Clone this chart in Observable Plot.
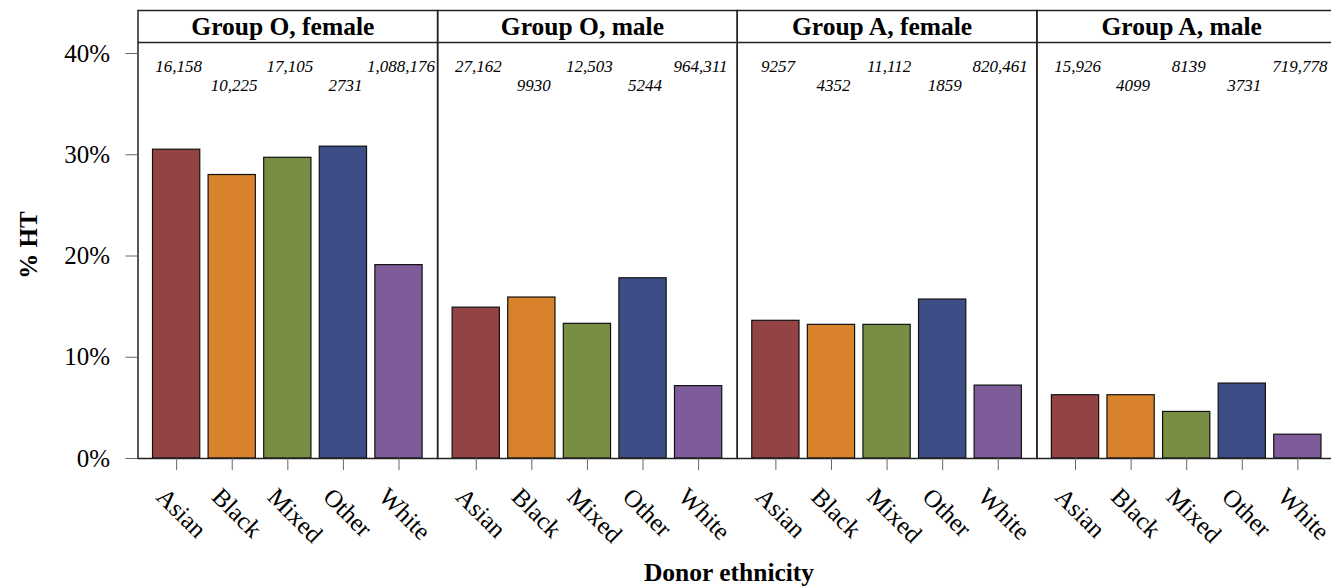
<!DOCTYPE html>
<html><head><meta charset="utf-8">
<script src="https://cdn.jsdelivr.net/npm/d3@7"></script>
<script src="https://cdn.jsdelivr.net/npm/@observablehq/plot@0.6"></script>
<style>html,body{margin:0;padding:0;background:#fff;overflow:hidden}svg{max-width:none!important}</style>
</head><body><div id="chart"></div>
<script>
const ethnicities = ["Asian", "Black", "Mixed", "Other", "White"];
const panels = ["Group O, female", "Group O, male", "Group A, female", "Group A, male"];
const pctOFemale = [30.5, 28.0, 29.7, 30.8, 19.1];
const pctOMale   = [14.9, 15.9, 13.3, 17.8, 7.15];
const pctAFemale = [13.6, 13.2, 13.2, 15.7, 7.2];
const pctAMale   = [6.25, 6.25, 4.6, 7.4, 2.35];
const nOFemale = [16158, 10225, 17105, 2731, 1088176];
const nOMale   = [27162, 9930, 12503, 5244, 964311];
const nAFemale = [9257, 4352, 11112, 1859, 820461];
const nAMale   = [15926, 4099, 8139, 3731, 719778];
const yTicks = [0, 10, 20, 30, 40];
const yTickLabels = ["0%", "10%", "20%", "30%", "40%"];

const pctByPanel = [pctOFemale, pctOMale, pctAFemale, pctAMale];
const nByPanel = [nOFemale, nOMale, nAFemale, nAMale];
const rows = [];
panels.forEach((p, i) => ethnicities.forEach((e, j) => rows.push({
  panel: p, eth: e, idx: j, pct: pctByPanel[i][j], n: nByPanel[i][j]
})));
const fmtN = n => n >= 10000 ? d3.format(",")(n) : String(n);

// layout helpers (pixel geometry mapped to value units)
const pxPerUnit = 10.125;            // 10% == 101.25 px
const yTop = 448 / pxPerUnit;        // top of strip
const yStrip = 416 / pxPerUnit;      // strip bottom line
const yStripMid = (yTop + yStrip) / 2;
const yRow1 = 392 / pxPerUnit, yRow2 = 373 / pxPerUnit;

const colors = ["#944345", "#D8832B", "#778E44", "#3D4E87", "#7E5C9A"];

const chart = Plot.plot({
  width: 1336, height: 587,
  marginLeft: 137.5, marginRight: 0, marginTop: 10, marginBottom: 129,
  style: {fontFamily: "'Liberation Serif', 'Times New Roman', serif", fontSize: "25px", color: "#000", background: "#fff"},
  fx: {domain: panels, padding: 0, round: false, axis: null, label: null},
  x: {domain: ethnicities, paddingInner: 0.15, paddingOuter: 0.27, round: false, label: null},
  y: {domain: [0, yTop], label: null},
  color: {domain: ethnicities, range: colors},
  marks: [
    Plot.barY(rows, {fx: "panel", x: "eth", y: "pct", fill: "eth", stroke: "#111", strokeWidth: 1.2}),
    Plot.text(rows, {fx: "panel", x: "eth", y: d => d.idx % 2 === 0 ? yRow1 : yRow2,
      text: d => fmtN(d.n), fontStyle: "italic", fontSize: 17, dx: 2, fill: "#000"}),
    Plot.ruleY([yStrip], {stroke: "#222", strokeWidth: 1.5}),
    Plot.text(panels, {fx: d => d, y: yStripMid, text: d => d, fontWeight: "bold", fontSize: 25.5, dx: -5, fill: "#000"}),
    Plot.frame({stroke: "#222", strokeWidth: 1.5}),
    Plot.axisY({ticks: yTicks, tickFormat: d => yTickLabels[yTicks.indexOf(d)], tickSize: 12, tickPadding: 16, stroke: "#666", label: null, fontSize: 25}),
    Plot.axisX({tickSize: 12, tickFormat: () => "", stroke: "#666", label: null}),
    Plot.axisX({tickRotate: 45, tickSize: 0, tickPadding: 34, dx: -16, label: null, fontSize: 25})
  ]
});
chart.style.maxWidth = "none";
document.getElementById("chart").appendChild(chart);
const svg = d3.select(chart);
svg.append("text").attr("transform", "translate(37,245) rotate(-90)")
  .attr("text-anchor", "middle").attr("font-weight", "bold").attr("font-size", 25)
  .attr("font-family", "'Liberation Serif', serif").text("% HT");
svg.append("text").attr("x", 729).attr("y", 581)
  .attr("text-anchor", "middle").attr("font-weight", "bold").attr("font-size", 25.5)
  .attr("font-family", "'Liberation Serif', serif").text("Donor ethnicity");
</script></body></html>
